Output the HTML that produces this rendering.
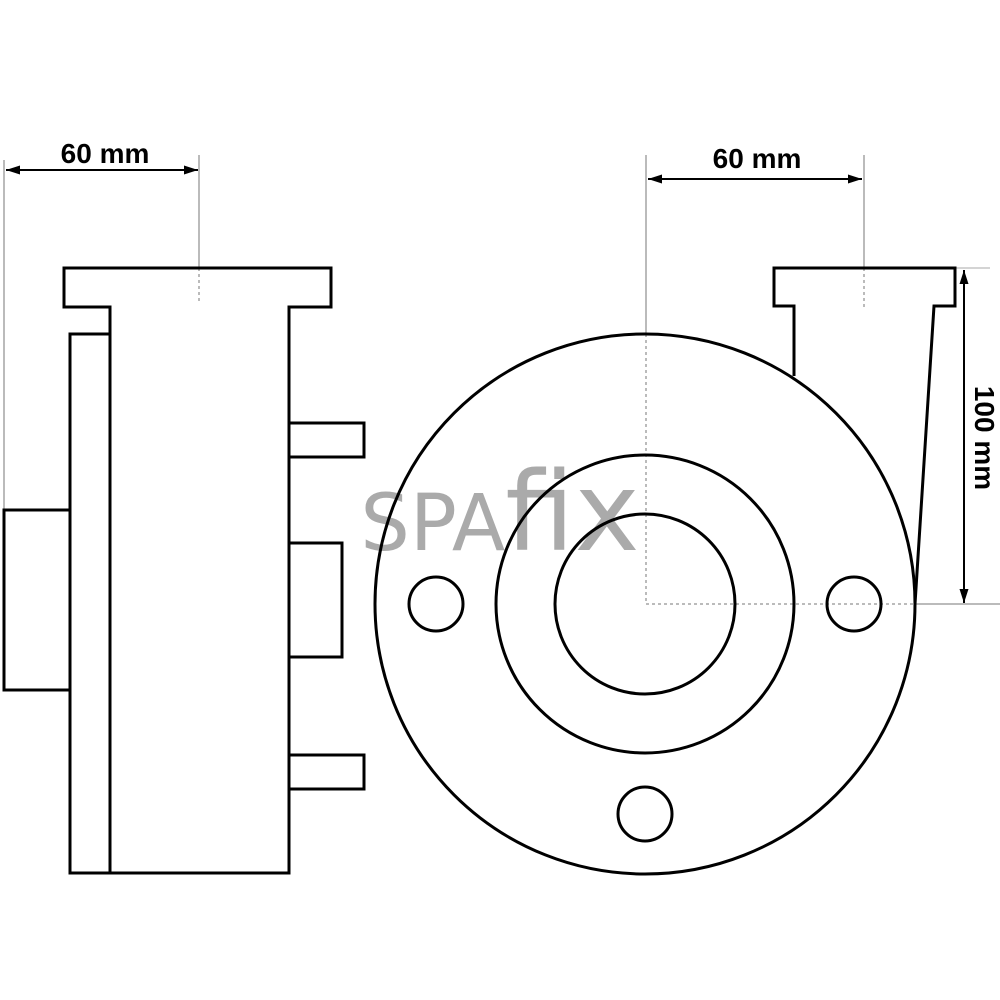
<!DOCTYPE html>
<html><head><style>body{margin:0;background:#fff}svg{display:block}</style></head><body>
<svg width="1000" height="1000" viewBox="0 0 1000 1000" xmlns="http://www.w3.org/2000/svg">
<defs>
<marker id="a" viewBox="0 0 14 10" refX="14" refY="5" markerWidth="14" markerHeight="10" orient="auto-start-reverse" markerUnits="userSpaceOnUse"><path d="M0,0.5 L14,5 L0,9.5 z" fill="#000"/></marker>
</defs>
<g fill="none" stroke="#777" stroke-width="1">
<line x1="4" y1="160" x2="4" y2="510"/>
<line x1="199" y1="155" x2="199" y2="268"/>
<line x1="199" y1="268" x2="199" y2="302" stroke-dasharray="3,3"/>
<line x1="646" y1="155" x2="646" y2="334"/>
<line x1="646" y1="334" x2="646" y2="604" stroke-dasharray="3,3"/>
<line x1="646" y1="604" x2="915" y2="604" stroke-dasharray="3,3"/>
<line x1="915" y1="604" x2="1000" y2="604"/>
<line x1="864" y1="155" x2="864" y2="268"/>
<line x1="864" y1="268" x2="864" y2="310" stroke-dasharray="3,3"/>
<line x1="955" y1="268" x2="990" y2="268" stroke="#aaa"/>
</g>
<g stroke="#000" stroke-width="2" fill="none">
<line x1="6" y1="170" x2="198" y2="170" marker-start="url(#a)" marker-end="url(#a)"/>
<line x1="648" y1="179" x2="862" y2="179" marker-start="url(#a)" marker-end="url(#a)"/>
<line x1="964" y1="270" x2="964" y2="603" marker-start="url(#a)" marker-end="url(#a)"/>
</g>
<g font-family="'Liberation Sans', sans-serif" font-weight="bold" font-size="28" fill="#000">
<text x="105" y="163" text-anchor="middle">60 mm</text>
<text x="757" y="168" text-anchor="middle">60 mm</text>
<text transform="translate(975,438) rotate(90)" text-anchor="middle">100 mm</text>
</g>
<text x="500" y="550" text-anchor="middle" font-family="'DejaVu Sans', sans-serif" font-size="78" fill="#aaa"><tspan>SPA</tspan><tspan font-size="110">fix</tspan></text>
<g stroke="#000" stroke-width="3" fill="none" stroke-linejoin="miter">
<path d="M110,307 H64 V268 H331 V307 H289 V873 H110 Z"/>
<rect x="70" y="334" width="40" height="539"/>
<rect x="4" y="510" width="66" height="180"/>
<rect x="289" y="423" width="75" height="34"/>
<rect x="289" y="543" width="53" height="114"/>
<rect x="289" y="755" width="75" height="34"/>
<circle cx="645" cy="604" r="270"/>
<circle cx="645" cy="604" r="149"/>
<circle cx="645" cy="604" r="90"/>
<circle cx="436" cy="604" r="27"/>
<circle cx="854" cy="604" r="27"/>
<circle cx="645" cy="814" r="27"/>
<path d="M794,376 V306 H774 V268 H955 V306 H934 L915,604"/>
</g>
</svg>
</body></html>
